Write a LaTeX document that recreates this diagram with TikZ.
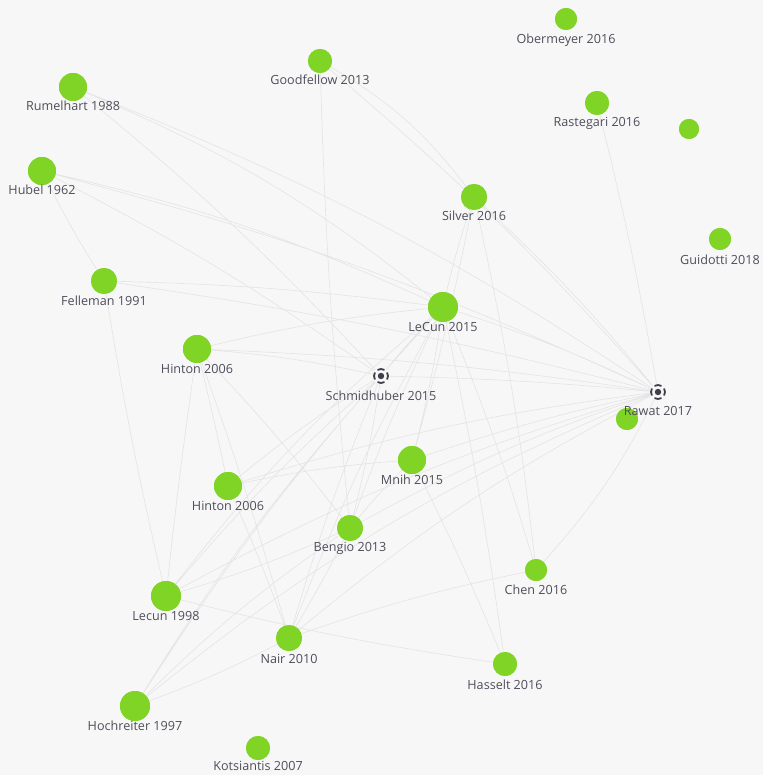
\documentclass[tikz,border=0pt]{standalone}
\usepackage{fontspec}
\setmainfont{Open Sans}
\definecolor{bgc}{RGB}{247,247,247}
\definecolor{nodegreen}{RGB}{128,212,38}
\definecolor{txt}{RGB}{78,78,92}
\definecolor{edgec}{RGB}{228,228,228}
\definecolor{iconc}{RGB}{62,62,74}
\begin{document}
\begin{tikzpicture}[x=1pt,y=-1pt,
  dot/.style={circle,fill=nodegreen,draw=none,inner sep=0pt,minimum size=#1},
  lbl/.style={text=txt,font=\fontsize{12.6}{14}\selectfont,inner sep=0pt,anchor=center},
  edge/.style={draw=edgec,line width=0.6pt},
  hub/.style={circle,inner sep=0pt,minimum size=14pt}]
\fill[bgc] (0,0) rectangle (763,775);
\useasboundingbox (0,0) rectangle (763,775);
% node positions
\node[dot=22pt] (ober) at (566,19) {};
\node[dot=24pt] (good) at (320,61) {};
\node[dot=28pt] (rume) at (73,87) {};
\node[dot=24pt] (rast) at (597,103) {};
\node[dot=20pt] (unk) at (689,129) {};
\node[dot=28pt] (hube) at (42,171) {};
\node[dot=26pt] (silv) at (474,197) {};
\node[dot=22pt] (guid) at (720,239) {};
\node[dot=26pt] (fell) at (104,281) {};
\node[dot=30pt] (lecf) at (443,307) {};
\node[dot=28pt] (hina) at (197,349) {};
\node[hub] (schm) at (381,376) {};
\node[hub] (rawa) at (658,392) {};
\node[dot=22pt] (rawg) at (627,419) {};
\node[dot=28pt] (mnih) at (412,460) {};
\node[dot=28pt] (hinb) at (228,486) {};
\node[dot=26pt] (beng) at (350,528) {};
\node[dot=22pt] (chen) at (536,570) {};
\node[dot=30pt] (lecn) at (166,596) {};
\node[dot=26pt] (nair) at (289,638) {};
\node[dot=24pt] (hass) at (505,664) {};
\node[dot=30pt] (hoch) at (135,706) {};
\node[dot=24pt] (kots) at (258,748) {};
% edges
\path[edge]
  (rume.center) to[bend left=8] (lecf.center)
  (rume.center) to[bend left=6] (rawa.center)
  (rume.center) to[bend left=4] (schm.center)
  (hube.center) to[bend left=6] (lecf.center)
  (hube.center) to[bend left=5] (rawa.center)
  (hube.center) to[bend left=4] (schm.center)
  (hube.center) to[bend right=3] (fell.center)
  (fell.center) to[bend left=3] (lecf.center)
  (fell.center) to[bend left=3] (rawa.center)
  (fell.center) to[bend right=2] (lecn.center)
  (good.center) to[bend left=12] (silv.center)
  (good.center) to[bend right=2] (beng.center)
  (good.center) to[bend left=4] (rawa.center)
  (silv.center) to[bend right=3] (lecf.center)
  (silv.center) to[bend left=2] (mnih.center)
  (silv.center) to[bend left=4] (rawa.center)
  (silv.center) to[bend left=3] (chen.center)
  (rast.center) to[bend left=2] (rawa.center)
  (lecf.center) to[bend right=3] (schm.center)
  (lecf.center) to[bend left=4] (rawa.center)
  (lecf.center) to[bend right=4] (hina.center)
  (lecf.center) to[bend left=3] (mnih.center)
  (lecf.center) to[bend right=3] (beng.center)
  (lecf.center) to[bend right=4] (nair.center)
  (lecf.center) to[bend right=6] (lecn.center)
  (lecf.center) to[bend right=5] (hoch.center)
  (lecf.center) to[bend left=2] (hass.center)
  (lecf.center) to[bend left=3] (chen.center)
  (schm.center) to[bend right=4] (hina.center)
  (schm.center) to[bend right=4] (hinb.center)
  (schm.center) to[bend left=3] (beng.center)
  (schm.center) to[bend right=4] (lecn.center)
  (schm.center) to[bend right=3] (nair.center)
  (schm.center) to[bend right=5] (hoch.center)
  (schm.center) to[bend left=2] (rawa.center)
  (hina.center) to[bend right=1] (lecn.center)
  (hina.center) to[bend left=1] (hinb.center)
  (hina.center) to[bend left=2] (nair.center)
  (hina.center) to[bend left=3] (beng.center)
  (hina.center) to[bend left=3] (rawa.center)
  (hinb.center) to[bend left=4] (mnih.center)
  (hinb.center) to[bend left=5] (rawa.center)
  (hinb.center) to[bend left=2] (nair.center)
  (mnih.center) to[bend left=3] (rawa.center)
  (mnih.center) to[bend right=3] (beng.center)
  (mnih.center) to[bend left=2] (hass.center)
  (beng.center) to[bend left=5] (rawa.center)
  (beng.center) to[bend left=4] (lecn.center)
  (beng.center) to[bend left=2] (nair.center)
  (chen.center) to[bend right=8] (rawa.center)
  (chen.center) to[bend right=4] (nair.center)
  (lecn.center) to[bend left=6] (rawa.center)
  (lecn.center) to[bend right=3] (hass.center)
  (nair.center) to[bend left=6] (rawa.center)
  (nair.center) to[bend left=4] (hoch.center)
  (hoch.center) to[bend left=8] (rawa.center)
  (hoch.center) to[bend left=5] (beng.center);
% green dots on top of edges
\fill[nodegreen] (ober) circle[radius=11];
\fill[nodegreen] (good) circle[radius=12];
\fill[nodegreen] (rume) circle[radius=14];
\fill[nodegreen] (rast) circle[radius=12];
\fill[nodegreen] (unk) circle[radius=10];
\fill[nodegreen] (hube) circle[radius=14];
\fill[nodegreen] (silv) circle[radius=13];
\fill[nodegreen] (guid) circle[radius=11];
\fill[nodegreen] (fell) circle[radius=13];
\fill[nodegreen] (lecf) circle[radius=15];
\fill[nodegreen] (hina) circle[radius=14];
\fill[nodegreen] (rawg) circle[radius=11];
\fill[nodegreen] (mnih) circle[radius=14];
\fill[nodegreen] (hinb) circle[radius=14];
\fill[nodegreen] (beng) circle[radius=13];
\fill[nodegreen] (chen) circle[radius=11];
\fill[nodegreen] (lecn) circle[radius=15];
\fill[nodegreen] (nair) circle[radius=13];
\fill[nodegreen] (hass) circle[radius=12];
\fill[nodegreen] (hoch) circle[radius=15];
\fill[nodegreen] (kots) circle[radius=12];
% hub icons
\foreach \h in {schm,rawa}{
  \fill[bgc] (\h.center) circle[radius=8.5];
  \fill[iconc] (\h.center) circle[radius=3.2];
  \foreach \a in {0,90,180,270}{
    \draw[iconc,line width=1.8pt] ([shift={(\a-30:7)}]\h.center) arc[start angle=\a-30,end angle=\a+30,radius=7];
  }
}
% labels
\node[lbl] (oberL) at (566,40) {Obermeyer 2016};
\node[lbl] (goodL) at (320,80) {Goodfellow 2013};
\node[lbl] (rumeL) at (73,106) {Rumelhart 1988};
\node[lbl] (rastL) at (597,123) {Rastegari 2016};
\node[lbl] (hubeL) at (42,190) {Hubel 1962};
\node[lbl] (silvL) at (474,216) {Silver 2016};
\node[lbl] (guidL) at (720,260) {Guidotti 2018};
\node[lbl] (fellL) at (104,301) {Felleman 1991};
\node[lbl] (lecfL) at (443,327) {LeCun 2015};
\node[lbl] (hinaL) at (197,369) {Hinton 2006};
\node[lbl] (schmL) at (381,396) {Schmidhuber 2015};
\node[lbl] (rawaL) at (658,411) {Rawat 2017};
\node[lbl] (mnihL) at (412,480) {Mnih 2015};
\node[lbl] (hinbL) at (228,506) {Hinton 2006};
\node[lbl] (bengL) at (350,548) {Bengio 2013};
\node[lbl] (chenL) at (536,590) {Chen 2016};
\node[lbl] (lecnL) at (166,616) {Lecun 1998};
\node[lbl] (nairL) at (289,659) {Nair 2010};
\node[lbl] (hassL) at (505,685) {Hasselt 2016};
\node[lbl] (hochL) at (135,726) {Hochreiter 1997};
\node[lbl] (kotsL) at (258,766) {Kotsiantis 2007};
\end{tikzpicture}
\end{document}
